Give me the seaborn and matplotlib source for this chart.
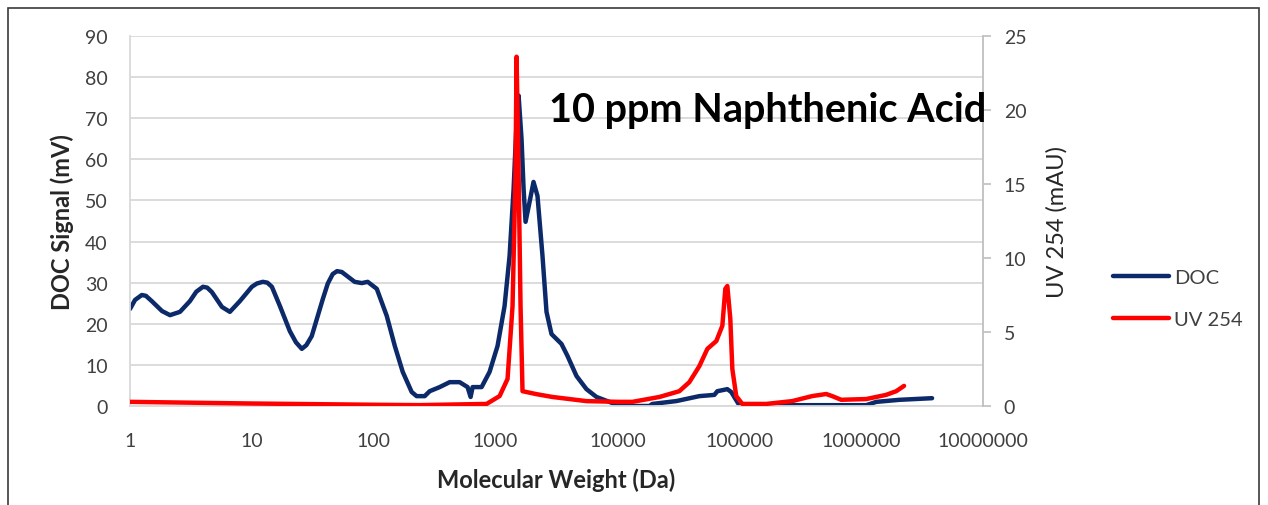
import matplotlib
matplotlib.use("Agg")
import matplotlib.pyplot as plt
import seaborn as sns
from matplotlib.lines import Line2D
from matplotlib.patches import Rectangle
from matplotlib.ticker import FixedFormatter, FixedLocator, NullLocator

# DOC trace (molecular weight in Da, signal in mV)
doc_mw = [1.0, 1.1, 1.25, 1.35, 1.51, 1.83, 2.13, 2.57, 3.1, 3.5, 3.97, 4.3, 4.7, 5.68,
          6.6, 7.97, 10.0, 11.0, 12.3, 13.4, 14.6, 17.0, 20.5, 23.0, 25.7, 28.0,
          31.0, 38.2, 42.0, 46.1, 50.0, 54.7, 69.8, 79.8, 89.3,
          106, 128, 149, 173, 205, 225, 262, 288, 348, 420, 507, 589, 624, 648,
          768, 893, 1038, 1185, 1303, 1406, 1487, 1545, 1633, 1698, 1762, 1900,
          2048, 2208, 2427, 2618, 2877, 3474, 3890, 4613, 5570, 6730, 8590,
          10380, 18300, 19350, 30460, 47000, 62400, 66100, 79800, 85900, 100000,
          1100000, 1330000, 2050000, 3820000]
doc_mv = [23.6, 25.8, 27.0, 26.8, 25.5, 23.1, 22.1, 22.9, 25.5, 27.8, 29.0, 28.8, 27.7, 24.1,
          22.9, 25.5, 29.0, 29.8, 30.2, 30.0, 29.0, 24.3, 18.2, 15.5, 13.9, 14.8,
          17.0, 26.0, 29.8, 32.1, 32.8, 32.6, 30.2, 29.9, 30.2,
          28.5, 21.9, 14.6, 8.3, 3.4, 2.4, 2.4, 3.6, 4.6, 5.8, 5.8, 4.6, 2.2, 4.6,
          4.6, 8.3, 14.6, 24.3, 36.5, 52.8, 69.1, 75.5, 65.0, 52.8, 44.8, 49.6,
          54.5, 51.1, 36.5, 22.9, 17.5, 15.1, 12.2, 7.3, 4.1, 2.2, 1.0,
          0.0, 0.0, 0.5, 1.2, 2.4, 2.7, 3.6, 4.1, 3.4, 0.2,
          0.2, 1.0, 1.5, 1.9]

# UV 254 trace (molecular weight in Da, absorbance in mAU)
uv_mw = [1.0, 9.6, 112, 238, 844, 1079, 1254, 1378, 1458, 1487, 1545, 1603, 1664,
         2168, 2931, 5570, 10380, 13270, 22100, 32200, 38900, 47000, 54700,
         64800, 72600, 76800, 79800, 84400, 87700, 94400, 105900, 166300,
         271600, 396500, 516500, 578000, 686000, 1100000, 1600000, 1940000, 2250000]
uv_mau = [0.28, 0.17, 0.08, 0.06, 0.14, 0.67, 1.83, 6.75, 15.8, 23.6, 15.8, 6.75, 1.0,
          0.8, 0.61, 0.33, 0.28, 0.28, 0.61, 1.0, 1.61, 2.69, 3.86,
          4.39, 5.42, 7.92, 8.11, 5.89, 2.5, 0.67, 0.14, 0.14,
          0.33, 0.67, 0.81, 0.67, 0.42, 0.47, 0.75, 1.0, 1.36]

x_ticks = [1, 10, 100, 1000, 10000, 100000, 1000000, 10000000]
x_labels = ["1", "10", "100", "1000", "10000", "100000", "1000000", "10000000"]
left_ticks = list(range(0, 91, 10))
right_ticks = list(range(0, 26, 5))

DOC_COLOR = "#0C2A6A"
UV_COLOR = "#FF0000"
GRID = "#D9D9D9"
TEXT = "#404040"

sns.set_theme(style="white")
plt.rcParams["font.family"] = ["Lato", "DejaVu Sans"]

W, H = 1268, 506
fig = plt.figure(figsize=(W / 100, H / 100), dpi=100)
ax = fig.add_axes([130 / W, 1 - 407 / H, (983 - 130) / W, (407 - 37) / H])

sns.lineplot(x=doc_mw, y=doc_mv, ax=ax, color=DOC_COLOR, linewidth=3.2,
             solid_joinstyle="round", solid_capstyle="round")
ax.set_xscale("log")
ax.set_ylim(0, 90)
ax.set_yticks(left_ticks)
ax.yaxis.grid(True, color=GRID, linewidth=1.3)
ax.set_axisbelow(True)
ax.tick_params(axis="both", length=0, labelsize=14, labelcolor=TEXT)
ax.tick_params(axis="x", pad=19)
ax.tick_params(axis="y", pad=16)
for side in ["top", "right"]:
    ax.spines[side].set_visible(False)
for side in ["left", "bottom"]:
    ax.spines[side].set_color(GRID)
    ax.spines[side].set_linewidth(1.3)
ax.set_xlabel("Molecular Weight (Da)", fontsize=17, fontweight="bold", labelpad=13)
ax.set_ylabel("DOC Signal (mV)", fontsize=17, fontweight="bold", labelpad=8)

ax2 = ax.twinx()
sns.lineplot(x=uv_mw, y=uv_mau, ax=ax2, color=UV_COLOR, linewidth=3.2,
             solid_joinstyle="round", solid_capstyle="round")
ax2.set_ylim(0, 25)
ax2.set_yticks(right_ticks)
ax2.grid(False)
ax2.tick_params(axis="y", length=6, width=1.2, color="#BFBFBF", labelsize=14,
                labelcolor=TEXT, pad=9)
for side in ["top", "left", "bottom"]:
    ax2.spines[side].set_visible(False)
ax2.spines["right"].set_color("#BFBFBF")
ax2.spines["right"].set_linewidth(1.3)
ax2.set_ylabel("UV 254 (mAU)", fontsize=17, labelpad=14)

# shared log x axis: plain integer labels, no minor ticks
ax.set_xlim(1, 1e7)
ax.xaxis.set_major_locator(FixedLocator(x_ticks))
ax.xaxis.set_major_formatter(FixedFormatter(x_labels))
ax.xaxis.set_minor_locator(NullLocator())

fig.text(549 / W, 1 - 122 / H, "10 ppm Naphthenic Acid", fontsize=28.5,
         fontweight="bold", color="black", ha="left", va="baseline")

handles = [Line2D([], [], color=DOC_COLOR, linewidth=3.2, solid_capstyle="round"),
           Line2D([], [], color=UV_COLOR, linewidth=3.2, solid_capstyle="round")]
fig.legend(handles, ["DOC", "UV 254"], loc="center left",
           bbox_to_anchor=(1113 / W, 1 - 299.5 / H), frameon=False, fontsize=14.5,
           handlelength=2.8, handletextpad=0.25, labelspacing=1.2, borderpad=0,
           borderaxespad=0, labelcolor=TEXT)

fig.add_artist(Rectangle((8 / W, -0.1), (1259 - 8) / W, 1.1 - 9 / H,
                         transform=fig.transFigure, fill=False,
                         edgecolor="#3A3A3A", linewidth=1.2))

fig.savefig("out.png", dpi=100)
